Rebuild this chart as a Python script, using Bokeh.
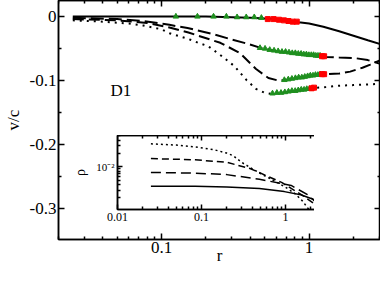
import numpy as np
from bokeh.plotting import figure
from bokeh.models import (FixedTicker, CustomJSTickFormatter, LogAxis, LinearAxis, Label)
from bokeh.layouts import column
from bokeh.embed import file_html
from bokeh.resources import INLINE

# ---------------- main panel data ----------------
r_solid = [0.025, 0.1, 0.2, 0.3, 0.4, 0.5, 0.6, 0.7, 0.85, 1.0, 1.25, 1.6, 2.0, 2.5, 3.05]
v_solid = [0.0, 0.0, 0.0, -0.001, -0.002, -0.003, -0.004, -0.006, -0.009, -0.011, -0.016, -0.023, -0.030, -0.037, -0.043]

r_dash1 = [0.025, 0.05, 0.075, 0.113, 0.15, 0.229, 0.3, 0.376, 0.47, 0.6, 0.8, 1.0, 1.2, 1.31, 1.6, 2.06, 2.5, 3.05]
v_dash1 = [-0.002, -0.004, -0.007, -0.013, -0.018, -0.028, -0.036, -0.042, -0.049, -0.054, -0.058, -0.060, -0.062, -0.063, -0.064, -0.065, -0.068, -0.074]

r_dash2 = [0.025, 0.05, 0.08, 0.113, 0.152, 0.25, 0.34, 0.437, 0.53, 0.62, 0.7, 0.8, 1.0, 1.2, 1.31, 1.6, 1.9, 2.3, 2.6, 3.05]
v_dash2 = [-0.004, -0.006, -0.010, -0.017, -0.025, -0.041, -0.057, -0.082, -0.096, -0.100, -0.099, -0.097, -0.093, -0.090, -0.090, -0.089, -0.086, -0.080, -0.075, -0.068]

r_dot = [0.025, 0.04, 0.06, 0.075, 0.1, 0.113, 0.152, 0.177, 0.206, 0.25, 0.31, 0.376, 0.437, 0.5, 0.56, 0.7, 0.85, 1.0, 1.3, 1.6, 2.0, 2.5, 3.05]
v_dot = [-0.006, -0.008, -0.011, -0.014, -0.020, -0.026, -0.035, -0.041, -0.046, -0.060, -0.077, -0.099, -0.113, -0.119, -0.121, -0.118, -0.115, -0.112, -0.110, -0.108, -0.107, -0.106, -0.105]

# markers (green triangles, red squares)
tri_solid_r = [0.125, 0.175, 0.225, 0.275, 0.325, 0.375, 0.425, 0.475]
tri_solid_v = [0.0, 0.0, 0.0, 0.0, -0.001, -0.001, -0.001, -0.002]
sq_solid_r = [0.525, 0.575, 0.625, 0.675, 0.725, 0.775, 0.825]
sq_solid_v = [-0.004, -0.004, -0.005, -0.006, -0.007, -0.008, -0.008]

tri_d1_r = [0.465, 0.503, 0.541, 0.579, 0.617, 0.655, 0.693, 0.731, 0.769, 0.807,
            0.845, 0.883, 0.921, 0.959, 0.997, 1.035, 1.073, 1.111, 1.149, 1.187]
tri_d1_v = [-0.049, -0.050, -0.052, -0.053, -0.054, -0.055, -0.055, -0.056, -0.057, -0.057,
            -0.058, -0.058, -0.059, -0.059, -0.060, -0.060, -0.060, -0.061, -0.061, -0.061]
sq_d1_r = [1.225, 1.265]
sq_d1_v = [-0.062, -0.062]

tri_d2_r = [0.680, 0.723, 0.765, 0.808, 0.850, 0.893, 0.935, 0.978, 1.020, 1.063, 1.105, 1.148, 1.190]
tri_d2_v = [-0.099, -0.098, -0.097, -0.096, -0.095, -0.095, -0.094, -0.093, -0.092, -0.092, -0.091, -0.091, -0.090]
sq_d2_r = [1.225, 1.265]
sq_d2_v = [-0.090, -0.090]

tri_dot_r = [0.565, 0.605, 0.645, 0.685, 0.725, 0.765, 0.805, 0.845, 0.885, 0.925, 0.965, 1.005]
tri_dot_v = [-0.120, -0.119, -0.119, -0.118, -0.117, -0.116, -0.116, -0.115, -0.114, -0.114, -0.113, -0.113]
sq_dot_r = [1.04, 1.08]
sq_dot_v = [-0.112, -0.111]

main_xticks = [0.1, 1]
main_xminor = [0.02, 0.03, 0.04, 0.05, 0.06, 0.07, 0.08, 0.09, 0.2, 0.3, 0.4, 0.5, 0.6, 0.7, 0.8, 0.9, 2, 3]
main_yticks = [0, -0.1, -0.2, -0.3]
main_yminor = [-0.05, -0.15, -0.25, -0.35]

# ---------------- inset data ----------------
ri_solid = [0.025, 0.05, 0.084, 0.2, 0.49, 0.97, 1.52, 2.14, 2.6, 2.95]
rho_solid = [0.00365, 0.00365, 0.00365, 0.00353, 0.00327, 0.00278, 0.00237, 0.00187, 0.0014, 0.0011]
ri_dash2 = [0.025, 0.084, 0.2, 0.49, 1.17, 1.83, 2.4, 2.9]
rho_dash2 = [0.0075, 0.00725, 0.00671, 0.00528, 0.00383, 0.00237, 0.0015, 0.0011]
ri_dash1 = [0.025, 0.084, 0.2, 0.378, 0.9, 1.65, 2.3, 2.8]
rho_dash1 = [0.0154, 0.0145, 0.0127, 0.00922, 0.00449, 0.00219, 0.0014, 0.0011]
ri_dot = [0.025, 0.05, 0.084, 0.14, 0.2, 0.24, 0.3, 0.4, 0.49, 0.7, 1.0, 1.3, 1.6, 1.9]
rho_dot = [0.0332, 0.031, 0.0283, 0.0245, 0.0205, 0.0178, 0.0127, 0.0092, 0.0073, 0.0051, 0.0035, 0.0025, 0.0017, 0.0011]

inset_xticks = [0.01, 0.1, 1]
inset_xminor = [0.02, 0.03, 0.04, 0.05, 0.06, 0.07, 0.08, 0.09, 0.2, 0.3, 0.4, 0.5, 0.6, 0.7, 0.8, 0.9, 2, 3]
inset_yticks = [0.01]
inset_yminor = [0.002, 0.003, 0.004, 0.005, 0.006, 0.007, 0.008, 0.009, 0.02, 0.03, 0.04, 0.05]

FONT = "Liberation Serif"
GREEN = "#1f8f1f"
RED = "#ff0000"

plain_fmt = CustomJSTickFormatter(code="return String(tick)")
blank_fmt = CustomJSTickFormatter(code="return ''")
pow_fmt = CustomJSTickFormatter(code="""
const sup = {'-':'\u207b','0':'\u2070','1':'\u00b9','2':'\u00b2','3':'\u00b3','4':'\u2074','5':'\u2075','6':'\u2076','7':'\u2077','8':'\u2078','9':'\u2079'};
const e = String(Math.round(Math.log10(tick)));
return '10' + e.split('').map(c => sup[c]).join('');
""")


def style_axis(ax, ticks, minor, fmt, size, major_len, minor_len, show=True):
    ax.ticker = FixedTicker(ticks=ticks, minor_ticks=minor)
    ax.formatter = fmt
    ax.major_tick_in = major_len
    ax.major_tick_out = 0
    ax.minor_tick_in = minor_len
    ax.minor_tick_out = 0
    ax.axis_line_width = 1.5
    ax.major_tick_line_width = 1.5
    ax.minor_tick_line_width = 1.5
    ax.major_label_text_font = FONT
    ax.major_label_text_color = "black"
    ax.axis_label_text_font = FONT
    ax.axis_label_text_font_style = "normal"
    ax.axis_label_text_color = "black"
    if show:
        ax.major_label_text_font_size = size
    else:
        ax.major_label_text_font_size = "0px"
        ax.major_label_standoff = 0


# ---------------- main figure ----------------
p = figure(frame_width=322, frame_height=239, x_axis_type="log", x_range=(0.02, 3.05), y_range=(-0.348, 0.025),
           output_backend="svg", toolbar_location=None,
           min_border_left=52, min_border_right=0, min_border_top=0, min_border_bottom=32)
p.title.visible = False
p.grid.visible = False
p.outline_line_color = "black"
p.outline_line_width = 1.5
p.background_fill_color = "white"
p.border_fill_color = "white"

style_axis(p.xaxis[0], main_xticks, main_xminor, plain_fmt, "17px", 6, 3)
p.xaxis[0].major_label_standoff = 2
p.xaxis[0].axis_label = "r"
p.xaxis[0].axis_label_text_font_size = "17px"
p.xaxis[0].axis_label_standoff = -10
style_axis(p.yaxis[0], main_yticks, main_yminor, plain_fmt, "17px", 6, 3)
p.yaxis[0].major_label_standoff = 2
p.yaxis[0].axis_label = "v/c"
p.yaxis[0].axis_label_text_font_size = "17px"
p.yaxis[0].axis_label_standoff = 4

top_ax = LogAxis(fixed_location=0.025)
style_axis(top_ax, main_xticks, main_xminor, blank_fmt, "0px", 6, 3, show=False)
p.add_layout(top_ax, "above")
right_ax = LinearAxis(fixed_location=3.05)
style_axis(right_ax, main_yticks, main_yminor, blank_fmt, "0px", 6, 3, show=False)
p.add_layout(right_ax, "right")

p.line(r_solid, v_solid, line_color="black", line_width=2)
p.line(r_dash1, v_dash1, line_color="black", line_width=2, line_dash="13 5")
p.line(r_dash2, v_dash2, line_color="black", line_width=2, line_dash="11 5")
p.line(r_dot, v_dot, line_color="black", line_width=2, line_dash="2 5")

for tr, tv in [(tri_solid_r, tri_solid_v), (tri_d1_r, tri_d1_v), (tri_d2_r, tri_d2_v), (tri_dot_r, tri_dot_v)]:
    p.scatter(tr, tv, marker="triangle", size=5.5, fill_color=GREEN, line_color=GREEN)
for sr, sv in [(sq_solid_r, sq_solid_v), (sq_d1_r, sq_d1_v), (sq_d2_r, sq_d2_v), (sq_dot_r, sq_dot_v)]:
    p.scatter(sr, sv, marker="square", size=5, fill_color=RED, line_color=RED)

p.add_layout(Label(x=0.045, y=-0.116, text="D1", text_font=FONT, text_font_size="17px",
                   text_color="black", text_baseline="alphabetic"))

# ---------------- inset figure ----------------
inset = figure(frame_width=208, frame_height=74, x_axis_type="log", y_axis_type="log",
               x_range=(0.01, 3.0), y_range=(0.0011, 0.051),
               output_backend="svg", toolbar_location=None,
               min_border_left=45, min_border_right=0, min_border_top=0, min_border_bottom=18)
inset.title.visible = False
inset.grid.visible = False
inset.outline_line_color = "black"
inset.outline_line_width = 1.5
inset.background_fill_color = "white"
inset.border_fill_alpha = 0.0

style_axis(inset.xaxis[0], inset_xticks, inset_xminor, plain_fmt, "12px", 5, 3)
inset.xaxis[0].major_label_standoff = 3
style_axis(inset.yaxis[0], inset_yticks, inset_yminor, pow_fmt, "11px", 5, 3)
inset.yaxis[0].major_label_standoff = 3
inset.yaxis[0].axis_label = "\u03c1"
inset.yaxis[0].axis_label_text_font_size = "14px"
inset.yaxis[0].axis_label_standoff = 5

itop = LogAxis(fixed_location=0.051)
style_axis(itop, inset_xticks, inset_xminor, blank_fmt, "0px", 5, 3, show=False)
inset.add_layout(itop, "above")
iright = LogAxis(fixed_location=3.0)
style_axis(iright, inset_yticks, inset_yminor, blank_fmt, "0px", 5, 3, show=False)
inset.add_layout(iright, "right")

inset.line(ri_solid, rho_solid, line_color="black", line_width=1.5)
inset.line(ri_dash2, rho_dash2, line_color="black", line_width=1.5, line_dash="10 5")
inset.line(ri_dash1, rho_dash1, line_color="black", line_width=1.5, line_dash="7 4")
inset.line(ri_dot, rho_dot, line_color="black", line_width=1.5, line_dash="2 3")

# overlay the inset on the main panel (pulled up into the main frame)
inset.margin = (-136, 0, 44, 59)

layout = column(p, inset, spacing=0)
open("out.html", "w").write(file_html(layout, INLINE))
